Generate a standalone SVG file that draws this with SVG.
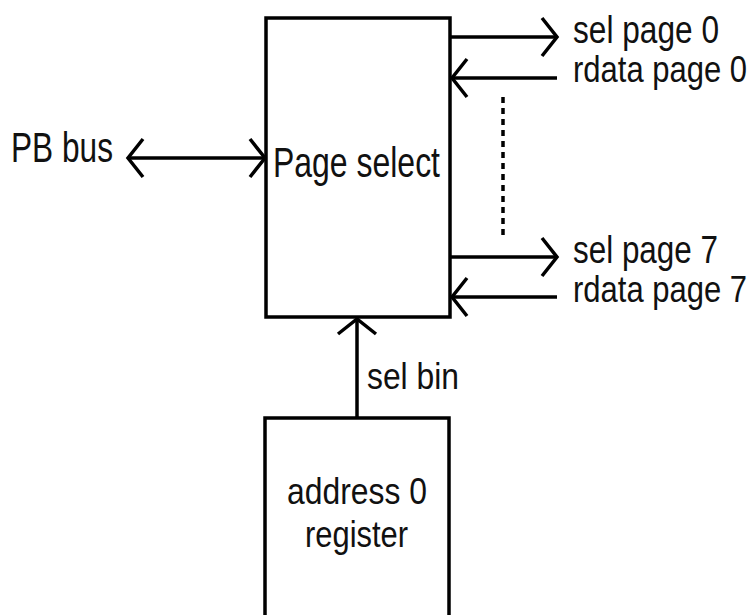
<svg xmlns="http://www.w3.org/2000/svg" width="754" height="615" viewBox="0 0 754 615">
<style>
.box{fill:#fff;stroke:#000;stroke-width:3.5}
.ln{fill:none;stroke:#000;stroke-width:3.5}
.t{font-family:"Liberation Sans",Arial,sans-serif;fill:#111}
</style>
<defs>
<marker id="ah" markerUnits="userSpaceOnUse" markerWidth="40" markerHeight="50" viewBox="-20 -25 40 50" refX="0" refY="0" orient="auto-start-reverse" overflow="visible">
<path d="M-15,-19 L0,0 L-15,19" fill="none" stroke="#000" stroke-width="3.5"/>
</marker>
</defs>
<rect width="754" height="615" fill="#fff"/>
<g id="page-select">
<rect class="box" x="266" y="18" width="184" height="299"/>
<text class="t" x="273" y="177" font-size="42" textLength="167" lengthAdjust="spacingAndGlyphs">Page select</text>
</g>
<g id="address-register">
<rect class="box" x="265" y="418" width="184" height="220"/>
<text class="t" x="287" y="504" font-size="37" textLength="140" lengthAdjust="spacingAndGlyphs">address 0</text>
<text class="t" x="305" y="547" font-size="37" textLength="103" lengthAdjust="spacingAndGlyphs">register</text>
</g>
<g id="connectors">
<line class="ln" x1="128" y1="158" x2="265" y2="158" marker-start="url(#ah)" marker-end="url(#ah)"/>
<line class="ln" x1="450" y1="37" x2="557" y2="37" marker-end="url(#ah)"/>
<line class="ln" x1="557" y1="78" x2="452" y2="78" marker-end="url(#ah)"/>
<line class="ln" x1="450" y1="257" x2="557" y2="257" marker-end="url(#ah)"/>
<line class="ln" x1="557" y1="297" x2="452" y2="297" marker-end="url(#ah)"/>
<line class="ln" x1="357" y1="418" x2="357" y2="319" marker-end="url(#ah)"/>
<line class="ln" x1="503" y1="97" x2="503" y2="238" stroke-dasharray="6 5"/>
</g>
<g id="labels">
<text class="t" x="11" y="162" font-size="42" textLength="102" lengthAdjust="spacingAndGlyphs">PB bus</text>
<text class="t" x="573" y="43" font-size="38" textLength="146" lengthAdjust="spacingAndGlyphs">sel page 0</text>
<text class="t" transform="translate(573,82) scale(1,1.2)" font-size="31">rdata page 0</text>
<text class="t" x="573" y="263" font-size="38" textLength="145" lengthAdjust="spacingAndGlyphs">sel page 7</text>
<text class="t" transform="translate(573,302) scale(1,1.2)" font-size="31">rdata page 7</text>
<text class="t" x="367" y="389" font-size="37" textLength="92" lengthAdjust="spacingAndGlyphs">sel bin</text>
</g>
</svg>
